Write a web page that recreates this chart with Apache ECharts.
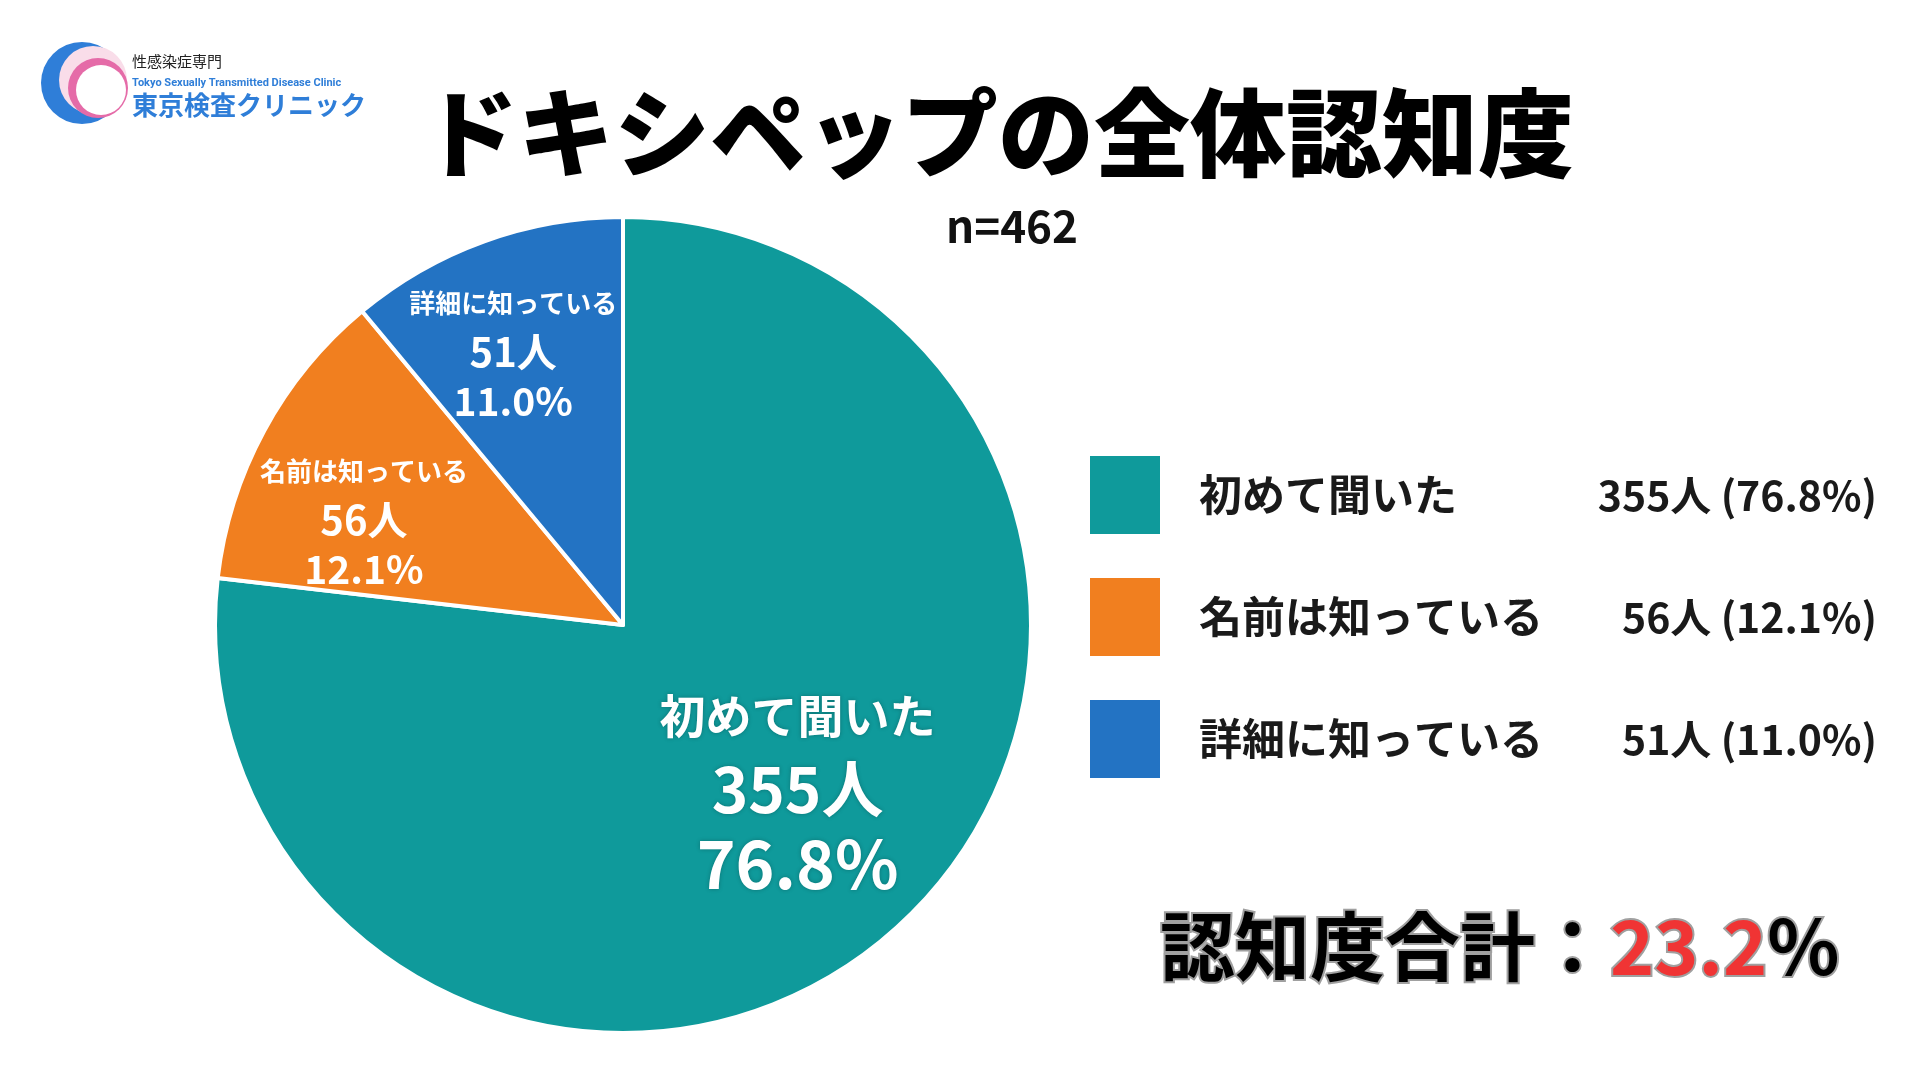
<!DOCTYPE html>
<html><head><meta charset="utf-8">
<script src="https://cdn.jsdelivr.net/npm/echarts@6/dist/echarts.min.js"></script>
<style>html,body{margin:0;padding:0;background:#fff}#c{width:1920px;height:1080px}</style>
</head><body><div id="c"></div>
<script>
const categories = ['初めて聞いた', '名前は知っている', '詳細に知っている'];
const counts = [355, 56, 51];
const percents = ['76.8', '12.1', '11.0'];
const sampleSize = 462;
const colors = ['#0F9A9B', '#F17F1F', '#2373C3'];

const FONT = '"Noto Sans CJK JP", "Noto Sans", sans-serif';
const awareness = ((counts[1] + counts[2]) / sampleSize * 100).toFixed(1);

const pieData = categories.map((name, i) => ({ name, value: counts[i], itemStyle: { color: colors[i] } }));
const labelNudge = [[-7, -39], [-19, 25], [-17, -16]];

const chart = echarts.init(document.getElementById('c'), null, { renderer: 'canvas' });
chart.setOption({
  backgroundColor: '#ffffff',
  animation: false,
  legend: {
    orient: 'vertical',
    left: 1088,
    top: 454,
    padding: 0,
    itemWidth: 72,
    itemHeight: 80,
    itemGap: 40,
    icon: 'rect',
    selectedMode: false,
    data: categories.map((name, i) => ({ name, itemStyle: { color: colors[i] } })),
    formatter: function (name) {
      const i = categories.indexOf(name);
      return '{n|' + name + '}{v|' + counts[i] + '人 (' + percents[i] + '%)}';
    },
    textStyle: {
      rich: {
        n: { fontFamily: FONT, fontSize: 43, fontWeight: 'bold', color: '#1a1a1a', width: 400, padding: [0, 0, 0, 33] },
        v: { fontFamily: FONT, fontSize: 41, fontWeight: 'bold', color: '#1a1a1a', width: 278, align: 'right' }
      }
    }
  },
  series: [
    {
      type: 'pie',
      center: [623, 625],
      radius: 408,
      startAngle: 90,
      clockwise: true,
      silent: true,
      itemStyle: { borderColor: '#ffffff', borderWidth: 4 },
      label: { show: false },
      labelLine: { show: false },
      data: pieData
    },
    {
      type: 'pie',
      center: [623, 625],
      radius: [200, 340],
      startAngle: 90,
      clockwise: true,
      silent: true,
      itemStyle: { color: 'rgba(0,0,0,0)', borderWidth: 0 },
      labelLine: { show: false },
      label: {
        show: true,
        position: 'inside',
        color: '#ffffff',
        formatter: function (p) {
          const i = p.dataIndex;
          const s = i === 0 ? '1' : '2';
          return '{n' + s + '|' + p.name + '}\n{c' + s + '|' + counts[i] + '人}\n{p' + s + '|' + percents[i] + '%}';
        },
        rich: {
          n1: { fontFamily: FONT, fontSize: 46, fontWeight: 'bold', color: '#fff', lineHeight: 74, textShadowColor: 'rgba(0,0,0,0.25)', textShadowBlur: 4 },
          c1: { fontFamily: FONT, fontSize: 62, fontWeight: 'bold', color: '#fff', lineHeight: 74, textShadowColor: 'rgba(0,0,0,0.25)', textShadowBlur: 4 },
          p1: { fontFamily: FONT, fontSize: 66, fontWeight: 'bold', color: '#fff', lineHeight: 74, textShadowColor: 'rgba(0,0,0,0.25)', textShadowBlur: 4 },
          n2: { fontFamily: FONT, fontSize: 26, fontWeight: 'bold', color: '#fff', lineHeight: 49 },
          c2: { fontFamily: FONT, fontSize: 40, fontWeight: 'bold', color: '#fff', lineHeight: 49 },
          p2: { fontFamily: FONT, fontSize: 39, fontWeight: 'bold', color: '#fff', lineHeight: 49 }
        }
      },
      labelLayout: function (params) {
        const d = labelNudge[params.dataIndex] || [0, 0];
        return { dx: d[0], dy: d[1] };
      },
      data: pieData.map(d => ({ name: d.name, value: d.value }))
    }
  ],
  graphic: [
    { type: 'circle', shape: { cx: 82, cy: 83, r: 41 }, style: { fill: '#2F7ED8' } },
    { type: 'circle', shape: { cx: 93, cy: 80, r: 34 }, style: { fill: '#F9DDE9' } },
    { type: 'circle', shape: { cx: 98, cy: 88, r: 30 }, style: { fill: '#E56BA8' } },
    { type: 'circle', shape: { cx: 101, cy: 90, r: 25 }, style: { fill: '#ffffff' } },
    { type: 'text', x: 132, y: 61, style: { text: '性感染症専門', font: '15px ' + FONT, fill: '#222', textVerticalAlign: 'middle' } },
    { type: 'text', x: 132, y: 83, style: { text: 'Tokyo Sexually Transmitted Disease Clinic', font: 'bold 11px Roboto, "Liberation Sans", sans-serif', fill: '#2F7ED8', textVerticalAlign: 'middle' } },
    { type: 'text', x: 132, y: 105, style: { text: '東京検査クリニック', font: 'bold 26px ' + FONT, fill: '#2F7ED8', textVerticalAlign: 'middle' } },
    { type: 'text', x: 998, y: 133, style: { text: 'ドキシペップの全体認知度', font: '900 96px ' + FONT, fill: '#000', textAlign: 'center', textVerticalAlign: 'middle' } },
    { type: 'text', x: 1012, y: 226, style: { text: 'n=' + sampleSize, font: 'bold 44px ' + FONT, fill: '#111', textAlign: 'center', textVerticalAlign: 'middle' } },
    {
      type: 'text', x: 1160, y: 946,
      style: {
        text: '{a|認知度合計：}{r|' + awareness + '}{a|%}',
        textVerticalAlign: 'middle',
        rich: {
          a: { fontFamily: FONT, fontSize: 75, fontWeight: 'bold', fill: '#000', stroke: '#a0a0a0', lineWidth: 4 },
          r: { fontFamily: FONT, fontSize: 75, fontWeight: 'bold', fill: '#F03434', stroke: '#a0a0a0', lineWidth: 4 }
        }
      }
    }
  ]
});
</script></body></html>
